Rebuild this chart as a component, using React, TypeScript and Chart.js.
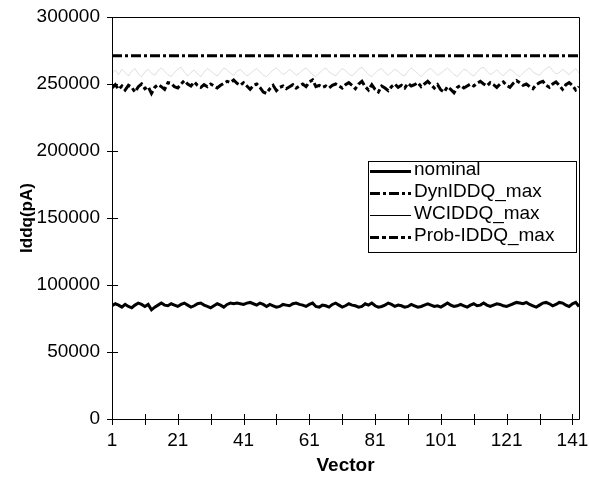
import React, { useEffect, useRef } from "react";
import { Chart, registerables } from "chart.js";

Chart.register(...registerables);

const FONT = "'Liberation Sans', Arial, sans-serif";

const vectors: number[] = Array.from({ length: 143 }, (_, i) => i + 1);

const xTickValues = [1, 11, 21, 31, 41, 51, 61, 71, 81, 91, 101, 111, 121, 131, 141];
const xTickLabels = ["1", "", "21", "", "41", "", "61", "", "81", "", "101", "", "121", "", "141"];
const yTickValues = [0, 50000, 100000, 150000, 200000, 250000, 300000];

const seriesNames = ["nominal", "DynIDDQ_max", "WCIDDQ_max", "Prob-IDDQ_max"];

const nominal = [
  84500, 86000, 85000, 83500, 85500, 84000, 83000, 85000, 86500, 85500,
  84000, 85500, 81500, 83500, 85000, 86500, 85000, 84500, 86000, 85000,
  84000, 85500, 86500, 85000, 83500, 84500, 86000, 86500, 85000, 84000,
  83000, 84500, 86000, 85000, 83500, 85500, 86500, 86000, 86500, 86000,
  85500, 86500, 87000, 86000, 85000, 86500, 85500, 84000, 85500, 84500,
  83500, 84000, 85500, 85000, 84500, 86000, 86500, 85500, 85000, 84000,
  85500, 86500, 84000, 83500, 85000, 84500, 83500, 85500, 86500, 85000,
  83500, 84500, 86000, 85000, 84500, 83500, 84000, 86000, 85000, 86500,
  84500, 83500, 84000, 85000, 86500, 85500, 84000, 85000, 84500, 83500,
  84000, 85500, 84500, 83500, 84000, 85000, 86000, 85000, 84000, 84500,
  83500, 85000, 86500, 85000, 84000, 84500, 85500, 84500, 83500, 85000,
  86000, 84500, 85000, 86500, 85000, 84000, 85000, 86000, 85500, 84500,
  84000, 85000, 86000, 87000, 86500, 86000, 87000, 85500, 84500, 83500,
  85000, 86500, 87000, 86000, 84500, 85500, 87000, 86500, 85000, 84000,
  86000, 87000, 84000,
];

const dynMax = [
  271000, 271000, 271000, 271000, 271000, 271000, 271000, 271000, 271000, 271000,
  271000, 271000, 271000, 271000, 271000, 271000, 271000, 271000, 271000, 271000,
  271000, 271000, 271000, 271000, 271000, 271000, 271000, 271000, 271000, 271000,
  271000, 271000, 271000, 271000, 271000, 271000, 271000, 271000, 271000, 271000,
  271000, 271000, 271000, 271000, 271000, 271000, 271000, 271000, 271000, 271000,
  271000, 271000, 271000, 271000, 271000, 271000, 271000, 271000, 271000, 271000,
  271000, 271000, 271000, 271000, 271000, 271000, 271000, 271000, 271000, 271000,
  271000, 271000, 271000, 271000, 271000, 271000, 271000, 271000, 271000, 271000,
  271000, 271000, 271000, 271000, 271000, 271000, 271000, 271000, 271000, 271000,
  271000, 271000, 271000, 271000, 271000, 271000, 271000, 271000, 271000, 271000,
  271000, 271000, 271000, 271000, 271000, 271000, 271000, 271000, 271000, 271000,
  271000, 271000, 271000, 271000, 271000, 271000, 271000, 271000, 271000, 271000,
  271000, 271000, 271000, 271000, 271000, 271000, 271000, 271000, 271000, 271000,
  271000, 271000, 271000, 271000, 271000, 271000, 271000, 271000, 271000, 271000,
  271000, 271000, 271000,
];

const wcMax = [
  258000, 260500, 257000, 261000, 258500, 256000, 259500, 261500, 257500, 255500,
  259000, 261000, 258000, 256500, 260000, 262000, 259500, 257000, 255500, 258500,
  261000, 262500, 259000, 256000, 258500, 260500, 257500, 255500, 259000, 261500,
  260000, 257500, 256000, 259000, 262000, 260500, 258000, 256500, 259500, 261000,
  258500, 256000, 257500, 260000, 261500, 259000, 256500, 255500, 258000, 260500,
  262000, 259500, 257000, 258500, 261000, 259000, 256500, 258000, 260500, 262000,
  259500, 257000, 255500, 258000, 260500, 262000, 259000, 257500, 256000, 259000,
  261500, 260000, 257500, 256000, 258500, 261000, 262500, 259500, 257000, 255500,
  258000, 260500, 261500, 258500, 256500, 259000, 261000, 259500, 257000, 256000,
  259500, 262000, 260000, 257500, 255500, 258000, 260500, 261500, 259000, 256500,
  258000, 260000, 262000, 259500, 257000, 255500, 258500, 261000, 260000, 257500,
  256000, 259000, 261500, 262500, 259500, 257000, 258500, 260500, 258000, 256000,
  259000, 261000, 259500, 257000, 255500, 258000, 260500, 262000, 259000, 257500,
  256500, 259500, 261500, 263000, 260000, 257500, 258500, 261000, 259000, 257000,
  259500, 261500, 258000,
];

const probMax = [
  247000, 249500, 246000, 248500, 245500, 249000, 247500, 244000, 248000, 250000,
  246500, 248000, 243000, 247500, 249500, 248000, 246000, 251000, 250500, 248000,
  247000, 250000, 252500, 250000, 248500, 251500, 249000, 247500, 249500, 248000,
  250000, 248500, 247000, 249000, 250500, 252000, 251000, 253000, 250500, 249000,
  251000, 248500, 246000, 249000, 250000, 247500, 244000, 243000, 246500, 249000,
  245000, 247500, 248500, 246500, 248000, 249500, 247000, 248500, 250000, 248000,
  251500, 253000, 248000, 249000, 247500, 248500, 247000, 249000, 250000, 248500,
  247000, 249500, 251000, 249000, 246500, 250000, 252000, 248000, 245500, 249500,
  246000, 244000, 248500, 247000, 245000, 248000, 250000, 247500, 249000, 247000,
  250500, 248500, 249500, 251000, 248000, 250000, 252000, 249500, 247000, 249500,
  245500, 244000, 248000, 246000, 243500, 247500, 249000, 247000, 248500, 250000,
  248500, 250500, 252000, 250000, 248500, 251000, 249500, 247500, 250000, 251500,
  249000, 247500, 250500, 252500, 251000, 249000, 250000, 248000, 246500, 249500,
  251000, 252000, 249000, 247500, 250000, 251500, 249000, 246000, 249500, 251000,
  249000, 245500, 248000,
];

const toPoints = (vals: number[]) => vals.map((v, i) => ({ x: vectors[i], y: v }));

const framePlugin = {
  id: "frameAndTicks",
  afterDatasetsDraw(chart: any) {
    const { ctx, chartArea } = chart;
    const { left, right, top, bottom } = chartArea;
    const xs = chart.scales.x;
    const ys = chart.scales.y;
    ctx.save();
    ctx.strokeStyle = "#000";
    ctx.lineWidth = 1;
    ctx.beginPath();
    ctx.rect(Math.round(left) + 0.5, Math.round(top) + 0.5, Math.round(right - left), Math.round(bottom - top));
    ctx.stroke();
    ctx.beginPath();
    xTickValues.forEach((v) => {
      const px = Math.round(xs.getPixelForValue(v)) + 0.5;
      ctx.moveTo(px, Math.round(bottom) - 5);
      ctx.lineTo(px, Math.round(bottom) + 6);
    });
    yTickValues.forEach((v) => {
      const py = Math.round(ys.getPixelForValue(v)) + 0.5;
      ctx.moveTo(Math.round(left) - 5, py);
      ctx.lineTo(Math.round(left) + 6, py);
    });
    ctx.stroke();

    // legend
    const lx = 368, ly = 161, lw = 208, lh = 91;
    ctx.fillStyle = "#fff";
    ctx.fillRect(lx, ly, lw, lh);
    ctx.strokeStyle = "#000";
    ctx.lineWidth = 1;
    ctx.strokeRect(lx + 0.5, ly + 0.5, lw, lh);
    const rows = [171, 193, 215, 237];
    ctx.font = `19px ${FONT}`;
    ctx.textBaseline = "middle";
    ctx.textAlign = "left";
    chart.data.datasets.forEach((ds: any, i: number) => {
      const y = rows[i] + 0.5;
      ctx.save();
      ctx.strokeStyle = ds.legendColor || ds.borderColor;
      ctx.lineWidth = ds.borderWidth;
      ctx.setLineDash(ds.borderDash || []);
      ctx.lineCap = "butt";
      ctx.beginPath();
      ctx.moveTo(370, y);
      ctx.lineTo(411, y);
      ctx.stroke();
      ctx.restore();
      ctx.fillStyle = "#000";
      ctx.fillText(seriesNames[i], 414, rows[i] - 1);
    });
    ctx.restore();
  },
};

export default function App() {
  const ref = useRef<HTMLCanvasElement | null>(null);
  useEffect(() => {
    document.body.style.margin = "0";
    const canvas = ref.current!;
    const chart = new Chart(canvas, {
      type: "line",
      data: {
        datasets: [
          {
            label: seriesNames[0],
            data: toPoints(nominal),
            borderColor: "#000",
            borderWidth: 3,
            pointRadius: 0,
            tension: 0,
          },
          {
            label: seriesNames[1],
            data: toPoints(dynMax),
            borderColor: "#000",
            borderWidth: 3,
            borderDash: [10, 3, 3, 3],
            pointRadius: 0,
            tension: 0,
          },
          {
            label: seriesNames[2],
            data: toPoints(wcMax),
            borderColor: "rgba(0,0,0,0.13)",
            legendColor: "#000",
            borderWidth: 1,
            pointRadius: 0,
            tension: 0,
          } as any,
          {
            label: seriesNames[3],
            data: toPoints(probMax),
            borderColor: "#000",
            borderWidth: 3,
            borderDash: [9, 3, 4, 3],
            pointRadius: 0,
            tension: 0,
          },
        ],
      },
      options: {
        animation: false,
        responsive: false,
        events: [],
        layout: { padding: { top: 17, right: 10, left: 17, bottom: 0 } },
        plugins: { legend: { display: false }, tooltip: { enabled: false } },
        scales: {
          x: {
            type: "linear",
            min: 1,
            max: 143,
            afterBuildTicks: (s: any) => {
              s.ticks = xTickValues.map((v) => ({ value: v }));
            },
            afterFit: (s: any) => {
              s.height = 61;
              s.paddingLeft = 0;
              s.paddingRight = 0;
            },
            grid: { display: false, drawTicks: false },
            border: { display: false },
            ticks: {
              autoSkip: false,
              maxRotation: 0,
              padding: 10,
              color: "#000",
              font: { family: FONT, size: 19 },
              callback: (v: any) => {
                const idx = xTickValues.indexOf(Number(v));
                return idx >= 0 ? xTickLabels[idx] : "";
              },
            },
            title: {
              display: true,
              text: "Vector",
              color: "#000",
              font: { family: FONT, size: 19, weight: "bold" },
              padding: { top: 0, bottom: 3 },
            },
          },
          y: {
            type: "linear",
            min: 0,
            max: 300000,
            afterBuildTicks: (s: any) => {
              s.ticks = yTickValues.map((v) => ({ value: v }));
            },
            afterFit: (s: any) => {
              s.width = 95;
              s.paddingTop = 0;
              s.paddingBottom = 0;
            },
            grid: { display: false, drawTicks: false },
            border: { display: false },
            ticks: {
              padding: 12,
              color: "#000",
              font: { family: FONT, size: 19 },
              callback: (v: any) => String(v),
            },
            title: {
              display: true,
              text: "Iddq(pA)",
              color: "#000",
              font: { family: FONT, size: 17, weight: "bold" },
              padding: { top: 0, bottom: 0 },
            },
          },
        },
      },
      plugins: [framePlugin],
    });
    return () => chart.destroy();
  }, []);
  return <canvas ref={ref} width={589} height={480} style={{ display: "block" }} />;
}
